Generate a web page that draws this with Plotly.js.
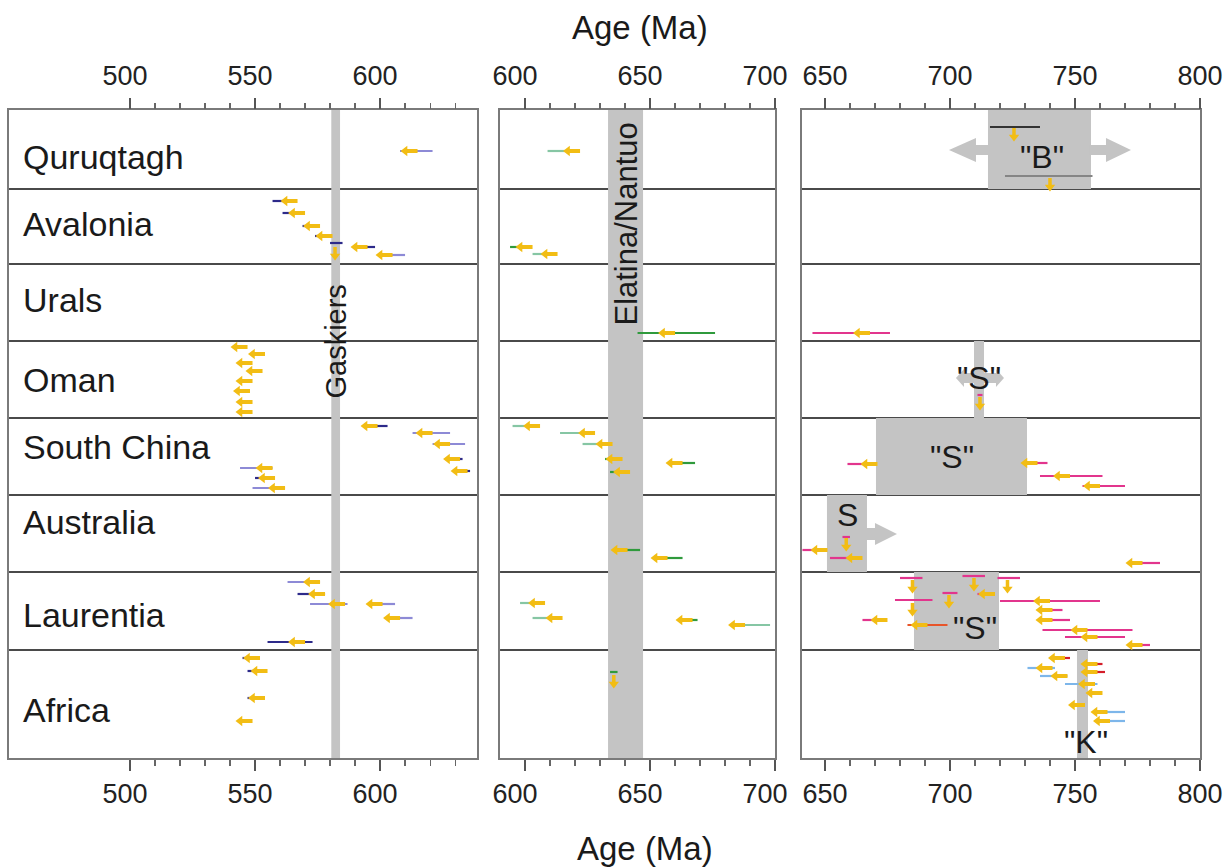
<!DOCTYPE html>
<html><head><meta charset="utf-8">
<script src="https://cdn.plot.ly/plotly-3.0.1.min.js"></script>
<style>html,body{margin:0;padding:0;background:#fff}#chart{width:1225px;height:868px}</style>
</head><body><div id="chart"></div><script>
// ---------- rows (regions) ----------
const rowNames = ['Quruqtagh','Avalonia','Urals','Oman','South China','Australia','Laurentia','Africa'];
const rowLabelPos = [47,114,190,270,337,412,505,600];
const rowEdges = [79,154,231,308,385,462,540];

// ---------- panel 1 (500-640 Ma) ----------
const p1Age = [612, 564,567,573,578,592,602, 544,551,546,550,546,545,546,546, 596,618,625,629,632,554,555,559, 573,575,583,598,605,567, 549,552,551,546];
const p1Lo  = [608, 557,561,569,574,590,600, 541,548,543,547,543,542,543,543, 594,613,621,627,630,544,550,549, 563,567,572,596,603,555, 545,547,547,543];
const p1Hi  = [621, 566,569,575,580,598,610, 545,552,547,551,547,546,547,547, 603,628,634,633,636,557,557,562, 576,578,587,606,613,573, 551,554,553,548];
const p1Pos = [41, 91,103,116,126,137,145, 237,244,253,261,271,281,292,302, 316,323,334,349,361,358,368,378, 472,484,494,494,508,532, 548,561,588,611];
const p1Src = ['b', 'a','a','a','a','a','b', 'a','a','a','a','a','a','a','a', 'a','b','b','a','a','b','a','b', 'b','a','b','b','b','a', 'a','a','a','a'];
const p1vAge = [582], p1vPos = [144], p1vLo = [580], p1vHi = [585], p1vLinePos = [133];

// ---------- panel 2 (590-700 Ma) ----------
const p2Age = [619, 600,610, 657, 603,625,632,636,639,660, 638,654, 605,612,664,685];
const p2Lo  = [609, 594,603, 645, 595,614,623,632,634,658, 636,652, 598,603,662,683];
const p2Hi  = [621, 602,612, 676, 605,627,634,638,641,668, 646,663, 607,614,669,698];
const p2Pos = [41, 137,144, 223, 316,323,334,349,362,353, 440,448, 493,508,510,515];
const p2Src = ['b', 'a','b', 'a', 'b','b','b','a','a','a', 'a','a', 'b','b','a','b'];
const p2vAge = [635.5], p2vPos = [572], p2vLo = [634], p2vHi = [637], p2vLinePos = [562];

// ---------- panel 3 (640-800 Ma) ----------
const p3Age = [665, 668,732,745,757, 648,662,774, 715,737,738,738,672,688,752,756,774, 743,756,738,756,744,755,758,751,760,761];
const p3Lo  = [645, 659,730,736,753, 641,652,772, 711,720,736,736,665,683,737,746,772, 741,754,731,754,736,746,758,751,758,759];
const p3Hi  = [676, 670,739,761,770, 650,663,784, 717,760,745,748,674,699,773,770,780, 748,761,742,762,747,759,758,751,770,770];
const p3Pos = [223, 354,353,366,376, 440,448,453, 484,491,500,510,510,515,520,527,535, 548,554,558,562,566,574,583,595,602,611];
const p3Src = ['m', 'm','m','m','m', 'm','m','m', 'm','m','m','m','m','o','m','m','m', 'r','r','l','r','l','l','n','n','l','l'];
const p3vAge = [725.6,740,712,658.5,685,709.6,723,699.6,685];
const p3vPos = [25,75,294,435,477,475,477,492,500];
const p3vLo  = [716,722,711,657,680,705,719,697,678];
const p3vHi  = [736,757,713,660,689,714,728,703,693];
const p3vLinePos = [17,66,285,427,468,466,468,483,490];
const p3vSrc = ['k','g','m','m','m','m','m','m','m'];

// ---------- glaciations / intervals ----------
const gaskiers = [580.5, 584];
const elatinaNantuo = [633.2, 647.2];
const quruqB = [715.2, 756.4];
const omanS = [709.6, 713.6];
const chinaS = [670.4, 730.8];
const australiaS = [650.8, 666.8];
const laurentiaS = [685.6, 719.6];
const africaK = [750.8, 755.2];
const quruqArrowL = [716, 710.4, 699.6];
const quruqArrowR = [756, 762.4, 772.4];
const omanArrow = [702.4, 705.6, 718.4, 721.6];
const australiaArrow = [666, 670, 678.8];

// ---------- styling ----------
const FONT = 'Liberation Sans, Arial, sans-serif';
const GOLD = '#f2bd14';
const BAND = '#c4c4c4';
const p1Colors = {a:'#2d2a8a', b:'#8d8ad6'};
const p2Colors = {a:'#2f9a3c', b:'#86c6a4'};
const p3Colors = {m:'#e2358d', r:'#d41e2a', o:'#e8552a', l:'#7db6ea', n:'rgba(0,0,0,0)', k:'#333333', g:'#858585'};

function lineTrace(xs, ys, color, width, xa) {
  return {type:'scatter', mode:'lines', x:xs, y:ys, xaxis:xa, yaxis:'y',
          line:{color:color, width:width}, hoverinfo:'skip', showlegend:false};
}
function errorBars(lo, hi, pos, src, colors, xa) {
  const g = {};
  src.forEach((s,i) => { if(!g[s]) g[s] = {x:[], y:[]};
    g[s].x.push(lo[i], hi[i], null); g[s].y.push(pos[i], pos[i], null); });
  return Object.keys(g).map(k => lineTrace(g[k].x, g[k].y, colors[k], 2.2, xa));
}
function hArrows(age, pos, xa) {
  const sx=[], sy=[], hx=[], hy=[];
  age.forEach((a,i) => { sx.push(a-2, a+3, null); sy.push(pos[i], pos[i], null); hx.push(a-2); hy.push(pos[i]); });
  return [lineTrace(sx, sy, GOLD, 4, xa),
    {type:'scatter', mode:'markers', x:hx, y:hy, xaxis:xa, yaxis:'y',
     marker:{symbol:'triangle-left', size:9, color:GOLD, line:{width:0}}, hoverinfo:'skip', showlegend:false}];
}
function vArrows(age, pos, xa) {
  const sx=[], sy=[], hx=[], hy=[];
  age.forEach((a,i) => { sx.push(a, a, null); sy.push(pos[i]-7, pos[i]+1, null); hx.push(a); hy.push(pos[i]+2); });
  return [lineTrace(sx, sy, GOLD, 3.5, xa),
    {type:'scatter', mode:'markers', x:hx, y:hy, xaxis:xa, yaxis:'y',
     marker:{symbol:'triangle-down', size:9, color:GOLD, line:{width:0}}, hoverinfo:'skip', showlegend:false}];
}

const traces = [];
traces.push(...errorBars(p1Lo, p1Hi, p1Pos, p1Src, p1Colors, 'x'));
traces.push(...errorBars(p1vLo, p1vHi, p1vLinePos, p1vLo.map(()=> 'a'), p1Colors, 'x'));
traces.push(...hArrows(p1Age, p1Pos, 'x'));
traces.push(...vArrows(p1vAge, p1vPos, 'x'));
traces.push(...errorBars(p2Lo, p2Hi, p2Pos, p2Src, p2Colors, 'x2'));
traces.push(...errorBars(p2vLo, p2vHi, p2vLinePos, p2vLo.map(()=> 'a'), p2Colors, 'x2'));
traces.push(...hArrows(p2Age, p2Pos, 'x2'));
traces.push(...vArrows(p2vAge, p2vPos, 'x2'));
traces.push(...errorBars(p3Lo, p3Hi, p3Pos, p3Src, p3Colors, 'x3'));
traces.push(...errorBars(p3vLo, p3vHi, p3vLinePos, p3vSrc, p3Colors, 'x3'));
traces.push(...hArrows(p3Age, p3Pos, 'x3'));
traces.push(...vArrows(p3vAge, p3vPos, 'x3'));
['x4','x5','x6'].forEach(xa => traces.push({type:'scatter', mode:'markers', x:[null], y:[null], xaxis:xa, yaxis:'y', showlegend:false, hoverinfo:'skip'}));

function minorVals(a, b) { const v=[]; for (let t=a; t<=b; t+=10) if (t % 50 !== 0) v.push(t); return v; }
function xAxis(domain, range, major, minor, extra) {
  return Object.assign({
    domain: domain, range: range, anchor:'y', showgrid:false, zeroline:false,
    showline:true, linecolor:'#7a7a7a', linewidth:2, mirror:true,
    ticks:'outside', tickmode:'array', tickvals: major, ticktext: major.map(String),
    ticklen:11, tickwidth:1.3, tickcolor:'#555',
    minor:{tickmode:'array', tickvals:minor, ticks:'outside', ticklen:6, tickwidth:1.1, tickcolor:'#666', showgrid:false},
    tickfont:{family:FONT, size:27, color:'#222'}, ticklabelstandoff:0, fixedrange:true
  }, extra || {});
}
const ax1Major=[500,550,600], ax1Minor=minorVals(510,630);
const ax2Major=[600,650,700], ax2Minor=minorVals(610,690);
const ax3Major=[650,700,750,800], ax3Minor=minorVals(660,790);
const d1=[0,0.393], d2=[0.4123,0.6432], d3=[0.6658,1];
const r1=[451.6,638.8], r2=[590,700], r3=[640.8,800];

const shapes = [];
function rect(xr, x, y0, y1) { shapes.push({type:'rect', xref:xr, yref:'y', x0:x[0], x1:x[1], y0:y0, y1:y1, fillcolor:BAND, line:{width:0}, layer:'below'}); }
rect('x', gaskiers, 0, 648);
rect('x2', elatinaNantuo, 0, 648);
rect('x3', quruqB, 0, 79);
rect('x3', omanS, 231, 308);
rect('x3', chinaS, 308, 385);
rect('x3', australiaS, 385, 462);
rect('x3', laurentiaS, 462, 540);
rect('x3', africaK, 540, 648);
function arrowPath(from, base, tip, yc, s, h) {
  return `M${from},${yc-s} L${base},${yc-s} L${base},${yc-h} L${tip},${yc} L${base},${yc+h} L${base},${yc+s} L${from},${yc+s} Z`;
}
function pathShape(p) { shapes.push({type:'path', xref:'x3', yref:'y', path:p, fillcolor:BAND, line:{width:0}, layer:'below'}); }
pathShape(arrowPath(quruqArrowL[0], quruqArrowL[1], quruqArrowL[2], 40, 5, 12));
pathShape(arrowPath(quruqArrowR[0], quruqArrowR[1], quruqArrowR[2], 40, 5, 12));
pathShape(arrowPath(australiaArrow[0], australiaArrow[1], australiaArrow[2], 424, 6, 11));
(function(){ const [tl, bl, br, tr] = omanArrow, yc=268, s=5, h=9;
  pathShape(`M${tl},${yc} L${bl},${yc-h} L${bl},${yc-s} L${br},${yc-s} L${br},${yc-h} L${tr},${yc} L${br},${yc+h} L${br},${yc+s} L${bl},${yc+s} L${bl},${yc+h} Z`);
})();
['x','x2','x3'].forEach(xr => rowEdges.forEach(e => shapes.push({type:'line', xref:xr+' domain', yref:'y', x0:0, x1:1, y0:e, y1:e, line:{color:'#4a4a4a', width:2}, layer:'below'})));

const annotations = [];
rowNames.forEach((n,i) => annotations.push({xref:'x domain', yref:'y', x:0.025, y:rowLabelPos[i], xanchor:'left', yanchor:'middle', text:n, showarrow:false, font:{family:FONT, size:34, color:'#1a1a1a'}}));
function label(xr, x, y, t, size, angle) {
  annotations.push({xref:xr, yref:'y', x:x, y:y, text:t, showarrow:false, textangle:angle||0, xanchor:'center', yanchor:'middle', font:{family:FONT, size:size, color:'#1a1a1a'}});
}
label('x', 582.2, 232, 'Gaskiers', 29, -90);
label('x2', 640.2, 114, 'Elatina/Nantuo', 31, -90);
label('x3', 737, 47, '"B"', 32);
label('x3', 711.6, 268, '"S"', 32);
label('x3', 701, 347, '"S"', 32);
label('x3', 659, 405, 'S', 32);
label('x3', 710, 518, '"S"', 32);
label('x3', 754.5, 632, '"K"', 32);
annotations.push({xref:'paper', yref:'paper', x:0.5298, y:1.128, text:'Age (Ma)', showarrow:false, font:{family:FONT, size:33, color:'#1a1a1a'}, xanchor:'center', yanchor:'middle'});
annotations.push({xref:'paper', yref:'paper', x:0.534, y:-0.139, text:'Age (Ma)', showarrow:false, font:{family:FONT, size:33, color:'#1a1a1a'}, xanchor:'center', yanchor:'middle'});

const layout = {
  width:1225, height:868, margin:{l:9, r:25, t:110, b:110},
  paper_bgcolor:'#ffffff', plot_bgcolor:'#ffffff', showlegend:false,
  xaxis:  xAxis(d1, r1, ax1Major, ax1Minor, {ticklabelshift:-5}),
  xaxis2: xAxis(d2, r2, ax2Major, ax2Minor, {ticklabelshift:-10}),
  xaxis3: xAxis(d3, r3, ax3Major, ax3Minor),
  xaxis4: xAxis(d1, r1, ax1Major, ax1Minor, {overlaying:'x', side:'top', showline:false, ticklabelshift:-5, ticklabelstandoff:2}),
  xaxis5: xAxis(d2, r2, ax2Major, ax2Minor, {overlaying:'x2', side:'top', showline:false, ticklabelshift:-10, ticklabelstandoff:2}),
  xaxis6: xAxis(d3, r3, ax3Major, ax3Minor, {overlaying:'x3', side:'top', showline:false, ticklabelstandoff:2}),
  yaxis: {domain:[0,1], range:[648,0], showgrid:false, zeroline:false, showticklabels:false, ticks:'',
          showline:true, linecolor:'#7a7a7a', linewidth:2, mirror:'all', fixedrange:true},
  shapes: shapes, annotations: annotations
};
Plotly.newPlot('chart', traces, layout, {displayModeBar:false, staticPlot:true});
</script></body></html>
